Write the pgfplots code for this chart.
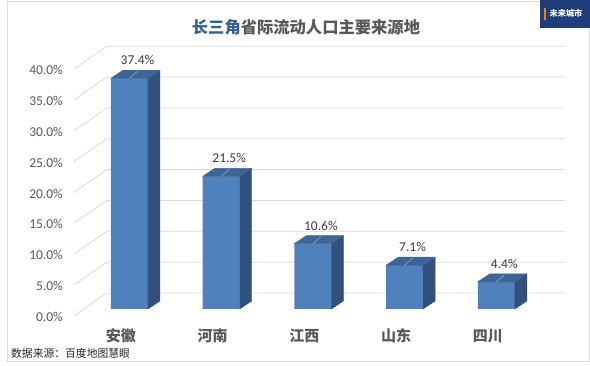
\documentclass[border=0pt]{standalone}
\usepackage{fontspec}
\setmainfont{Carlito}
\newfontfamily\cjk{Noto Sans CJK SC}
\usepackage{pgfplots}
\pgfplotsset{compat=1.18}
\usepackage{pgfplotstable}

\definecolor{frontc}{HTML}{4F81BD}
\definecolor{topc}{HTML}{3D6598}
\definecolor{sidec}{HTML}{31507A}
\definecolor{gridc}{HTML}{D9D9D9}
\definecolor{tickc}{HTML}{595959}
\definecolor{labc}{HTML}{404040}
\definecolor{titleblue}{HTML}{376092}
\definecolor{logoc}{HTML}{1F3D7A}
\definecolor{leadc}{HTML}{A6A6A6}

\pgfdeclareplotmark{nothing}{}

\pgfplotstableread{
x v
0 37.4
1 21.5
2 10.6
3 7.1
4 4.4
}\datatable

\begin{document}
\begin{tikzpicture}
\draw[gridc, line width=0.8pt] (7pt,5pt) rectangle (589pt,365pt);
\fill[logoc] (540pt,338pt) rectangle (590pt,366pt);
\fill[orange!70!brown] (544pt,346pt) rectangle (545.5pt,358pt);
\node[white, font=\cjk\bfseries\fontsize{8.2}{9}\selectfont, inner sep=0] at (566pt,353pt) {未来城市};
\node[font=\cjk\bfseries\fontsize{16.3}{18}\selectfont, text=tickc, inner sep=0] at (306pt,339pt) {\textcolor{titleblue}{长三角}省际流动人口主要来源地};
\node[anchor=west, font=\cjk\fontsize{10.8}{12}\selectfont, text=black!85, inner sep=0] at (11pt,13pt) {数据来源：百度地图慧眼};

\begin{axis}[
  x=91.7pt, y=6.17pt,
  xmin=-0.5, xmax=4.5, ymin=0, ymax=40,
  anchor=origin, at={(129.5pt,57pt)},
  clip=false,
  axis line style={draw=none}, tick style={draw=none},
  /pgf/number format/assume math mode=true,
  xtick={0,1,2,3,4},
  xticklabels={安徽,河南,江西,山东,四川},
  xticklabel style={anchor=center, inner sep=0pt, yshift=-27pt, xshift=-8.5pt,
     font=\cjk\bfseries\fontsize{15}{16}\selectfont, text=tickc},
  ytick={0,5,...,40},
  yticklabel={\pgfmathprintnumber[fixed,fixed zerofill,precision=1]{\tick}\%},
  yticklabel style={anchor=east, inner sep=0pt, xshift=-20.6pt, yshift=-8pt,
     font=\fontsize{13.5}{15}\selectfont, text=tickc},
]
\pgfplotsinvokeforeach{0,5,10,15,20,25,30,35,40}{
  \draw[gridc, line width=0.8pt] (axis cs:-0.608,{#1-1.13}) -- (axis cs:-0.248,{#1+2.59}) -- (axis cs:4.752,{#1+2.59});
}
\addplot[ybar, bar width=37pt, fill=frontc, draw=none,
  nodes near coords={\pgfmathprintnumber[fixed,fixed zerofill,precision=1]{\pgfplotspointmeta}\%},
  every node near coord/.append style={anchor=center, xshift=8pt, yshift=18pt,
     font=\fontsize{13.5}{15}\selectfont, text=labc, inner sep=0pt},
] table[x=x,y=v]{\datatable};
\addplot[scatter, only marks, mark=nothing,
  visualization depends on={\thisrow{v} \as \barv},
  scatter/@pre marker code/.code={%
    \pgfmathsetlengthmacro\barh{\barv*6.17pt}%
    \fill[sidec] (18.5pt,0pt) -- (30.5pt,8pt) -- (30.5pt,{8pt-\barh}) -- (18.5pt,{-\barh}) -- cycle;
    \fill[topc] (-18.5pt,0pt) -- (18.5pt,0pt) -- (30.5pt,8pt) -- (-6.5pt,8pt) -- cycle;
    \draw[leadc, line width=0.6pt] (0pt,0pt) -- (8pt,7pt);
  },
  scatter/@post marker code/.code={},
] table[x=x,y=v]{\datatable};
\end{axis}
\pgfresetboundingbox
\useasboundingbox (0,0) rectangle (590pt,366pt);
\end{tikzpicture}
\end{document}
